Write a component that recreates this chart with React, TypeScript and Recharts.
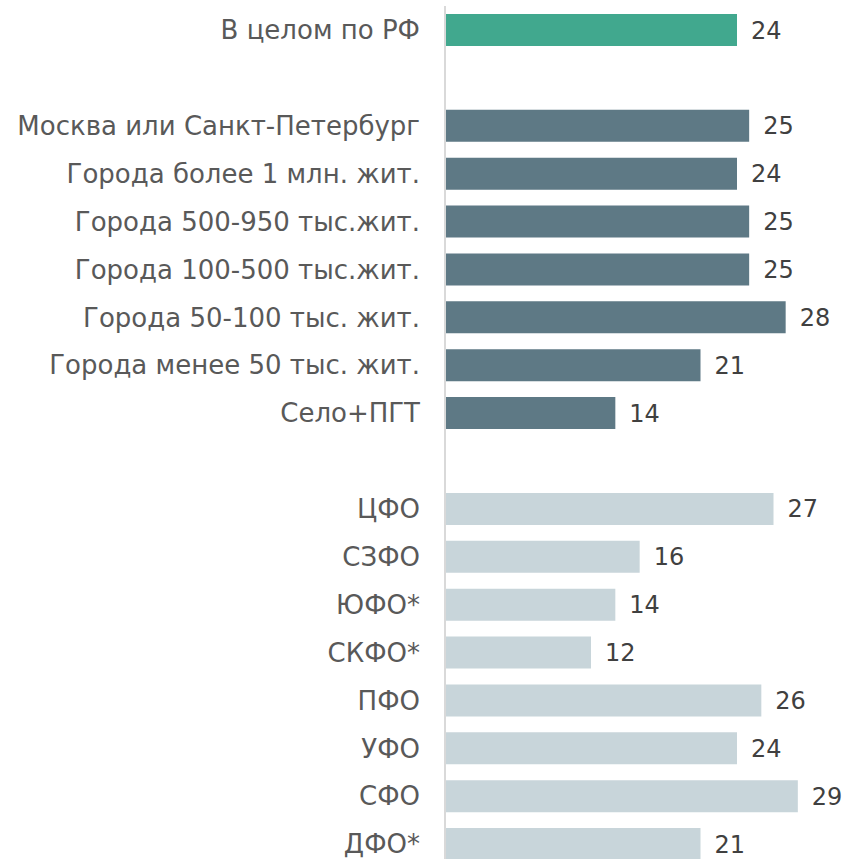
import React from "react";
import { BarChart, Bar, XAxis, YAxis, Cell, LabelList } from "recharts";

const categories = [
  "В целом по РФ",
  " ",
  "Москва или Санкт-Петербург",
  "Города более 1 млн. жит.",
  "Города 500-950 тыс.жит.",
  "Города 100-500 тыс.жит.",
  "Города 50-100 тыс. жит.",
  "Города менее 50 тыс. жит.",
  "Село+ПГТ",
  "  ",
  "ЦФО",
  "СЗФО",
  "ЮФО*",
  "СКФО*",
  "ПФО",
  "УФО",
  "СФО",
  "ДФО*",
];

const values: (number | null)[] = [24, null, 25, 24, 25, 25, 28, 21, 14, null, 27, 16, 14, 12, 26, 24, 29, 21];

const groups = ["total", "", "size", "size", "size", "size", "size", "size", "size", "", "region", "region", "region", "region", "region", "region", "region", "region"];

const groupColors: Record<string, string> = {
  total: "#41A88E",
  size: "#5E7985",
  region: "#C8D5DA",
  "": "transparent",
};

const data = categories.map((name, i) => ({ name, value: values[i], group: groups[i] }));

const FONT = "'DejaVu Sans', sans-serif";

export default function App() {
  return (
    <div style={{ position: "absolute", left: 0, top: 0, width: 844, height: 859, overflow: "hidden", background: "#fff" }}>
      <BarChart
        width={844}
        height={859}
        data={data}
        layout="vertical"
        margin={{ top: 6, right: 34, bottom: -9, left: 0 }}
        barSize={32}
      >
        <XAxis type="number" domain={[0, 30]} hide />
        <YAxis
          type="category"
          dataKey="name"
          width={445}
          axisLine={{ stroke: "#D9D9D9", strokeWidth: 2 }}
          tickLine={false}
          tickSize={0}
          tickMargin={25}
          interval={0}
          tick={{ fill: "#595959", fontSize: 26, fontFamily: FONT }}
        />
        <Bar dataKey="value" isAnimationActive={false}>
          {data.map((d, i) => (
            <Cell key={i} fill={groupColors[d.group]} />
          ))}
          <LabelList
            dataKey="value"
            position="right"
            offset={14}
            fill="#404040"
            fontSize={24}
            fontFamily={FONT}
          />
        </Bar>
      </BarChart>
    </div>
  );
}
